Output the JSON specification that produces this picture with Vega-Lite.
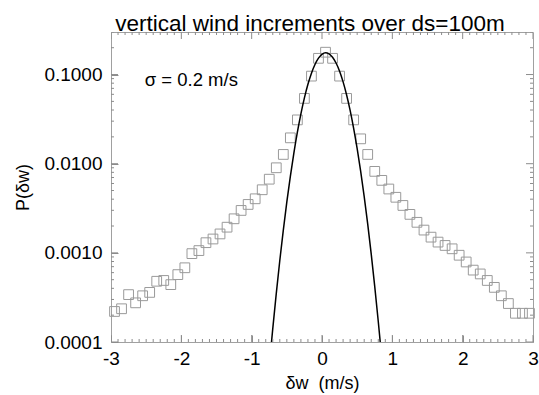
{
  "$schema": "https://vega.github.io/schema/vega-lite/v6.json",
  "width": 422,
  "height": 310,
  "autosize": "none",
  "padding": {"left": 111, "top": 32, "right": 6, "bottom": 53},
  "background": "white",
  "title": {"text": "vertical wind increments over ds=100m", "fontSize": 22.5, "fontWeight": "normal", "font": "Liberation Sans", "color": "black", "anchor": "middle", "dx": -12, "offset": -3},
  "config": {
    "font": "Liberation Sans",
    "view": {"stroke": "#a0a0a0", "strokeWidth": 1},
    "axis": {"zindex": 1, "ticks": true, "tickOpacity": 1, "domain": false, "grid": false, "tickColor": "#8c8c8c", "tickWidth": 1, "labelColor": "black", "labelFontSize": 19, "labelFont": "Liberation Sans", "titleFontSize": 18, "titleFont": "Liberation Sans", "titleFontWeight": "normal", "titleColor": "black", "labelOverlap": false, "labelFlush": false}
  },
  "datasets": {
    "pdf": [
      {"dw": -2.95, "p": 0.00022}, {"dw": -2.85, "p": 0.000236}, {"dw": -2.75, "p": 0.00034}, {"dw": -2.65, "p": 0.000275},
      {"dw": -2.55, "p": 0.00033}, {"dw": -2.45, "p": 0.00036}, {"dw": -2.35, "p": 0.00048}, {"dw": -2.25, "p": 0.00049},
      {"dw": -2.15, "p": 0.00044}, {"dw": -2.05, "p": 0.00057}, {"dw": -1.95, "p": 0.00068}, {"dw": -1.85, "p": 0.00098},
      {"dw": -1.75, "p": 0.00106}, {"dw": -1.65, "p": 0.0013}, {"dw": -1.55, "p": 0.00143}, {"dw": -1.45, "p": 0.00163},
      {"dw": -1.35, "p": 0.00194}, {"dw": -1.25, "p": 0.00241}, {"dw": -1.15, "p": 0.00299}, {"dw": -1.05, "p": 0.00349},
      {"dw": -0.95, "p": 0.00404}, {"dw": -0.85, "p": 0.0051}, {"dw": -0.75, "p": 0.0067}, {"dw": -0.65, "p": 0.009},
      {"dw": -0.55, "p": 0.0127}, {"dw": -0.45, "p": 0.0195}, {"dw": -0.35, "p": 0.031}, {"dw": -0.25, "p": 0.054},
      {"dw": -0.15, "p": 0.096}, {"dw": -0.05, "p": 0.152}, {"dw": 0.05, "p": 0.178}, {"dw": 0.15, "p": 0.152},
      {"dw": 0.25, "p": 0.096}, {"dw": 0.35, "p": 0.054}, {"dw": 0.45, "p": 0.031}, {"dw": 0.55, "p": 0.019},
      {"dw": 0.65, "p": 0.0127}, {"dw": 0.75, "p": 0.0082}, {"dw": 0.85, "p": 0.0065}, {"dw": 0.95, "p": 0.0052},
      {"dw": 1.05, "p": 0.0042}, {"dw": 1.15, "p": 0.0034}, {"dw": 1.25, "p": 0.0027}, {"dw": 1.35, "p": 0.0022},
      {"dw": 1.45, "p": 0.0018}, {"dw": 1.55, "p": 0.0015}, {"dw": 1.65, "p": 0.00132}, {"dw": 1.75, "p": 0.00121},
      {"dw": 1.85, "p": 0.00111}, {"dw": 1.95, "p": 0.00094}, {"dw": 2.05, "p": 0.00079}, {"dw": 2.15, "p": 0.00064},
      {"dw": 2.25, "p": 0.00058}, {"dw": 2.35, "p": 0.00049}, {"dw": 2.45, "p": 0.00041}, {"dw": 2.55, "p": 0.00033},
      {"dw": 2.65, "p": 0.00027}, {"dw": 2.75, "p": 0.00021}, {"dw": 2.85, "p": 0.00021}, {"dw": 2.95, "p": 0.00021}
    ],
    "gauss": [
      {"dw": -0.718, "p": 0.0001}, {"dw": -0.7, "p": 0.000141}, {"dw": -0.65, "p": 0.000351}, {"dw": -0.6, "p": 0.000821},
      {"dw": -0.55, "p": 0.0018}, {"dw": -0.5, "p": 0.00373}, {"dw": -0.45, "p": 0.00722}, {"dw": -0.4, "p": 0.01316},
      {"dw": -0.35, "p": 0.02254}, {"dw": -0.3, "p": 0.03625}, {"dw": -0.25, "p": 0.05473}, {"dw": -0.2, "p": 0.07767},
      {"dw": -0.15, "p": 0.1035}, {"dw": -0.1, "p": 0.1297}, {"dw": -0.05, "p": 0.1525}, {"dw": 0, "p": 0.1686},
      {"dw": 0.05, "p": 0.1751}, {"dw": 0.1, "p": 0.1708}, {"dw": 0.15, "p": 0.1565}, {"dw": 0.2, "p": 0.1346},
      {"dw": 0.25, "p": 0.1089}, {"dw": 0.3, "p": 0.0827}, {"dw": 0.35, "p": 0.059}, {"dw": 0.4, "p": 0.0396},
      {"dw": 0.45, "p": 0.0249}, {"dw": 0.5, "p": 0.01473}, {"dw": 0.55, "p": 0.00819}, {"dw": 0.6, "p": 0.00427},
      {"dw": 0.65, "p": 0.0021}, {"dw": 0.7, "p": 0.000966}, {"dw": 0.75, "p": 0.000418}, {"dw": 0.8, "p": 0.00017},
      {"dw": 0.828, "p": 0.0001}
    ],
    "note": [{"label": "σ = 0.2 m/s"}],
    "xmaj": [{"v": -3}, {"v": -2}, {"v": -1}, {"v": 0}, {"v": 1}, {"v": 2}, {"v": 3}],
    "xmin": [{"v": -2.9}, {"v": -2.8}, {"v": -2.7}, {"v": -2.6}, {"v": -2.5}, {"v": -2.4}, {"v": -2.3}, {"v": -2.2}, {"v": -2.1},
             {"v": -1.9}, {"v": -1.8}, {"v": -1.7}, {"v": -1.6}, {"v": -1.5}, {"v": -1.4}, {"v": -1.3}, {"v": -1.2}, {"v": -1.1},
             {"v": -0.9}, {"v": -0.8}, {"v": -0.7}, {"v": -0.6}, {"v": -0.5}, {"v": -0.4}, {"v": -0.3}, {"v": -0.2}, {"v": -0.1},
             {"v": 0.1}, {"v": 0.2}, {"v": 0.3}, {"v": 0.4}, {"v": 0.5}, {"v": 0.6}, {"v": 0.7}, {"v": 0.8}, {"v": 0.9},
             {"v": 1.1}, {"v": 1.2}, {"v": 1.3}, {"v": 1.4}, {"v": 1.5}, {"v": 1.6}, {"v": 1.7}, {"v": 1.8}, {"v": 1.9},
             {"v": 2.1}, {"v": 2.2}, {"v": 2.3}, {"v": 2.4}, {"v": 2.5}, {"v": 2.6}, {"v": 2.7}, {"v": 2.8}, {"v": 2.9}],
    "ymaj": [{"v": 0.0001}, {"v": 0.001}, {"v": 0.01}, {"v": 0.1}],
    "ymin": [{"v": 0.0002}, {"v": 0.0003}, {"v": 0.0004}, {"v": 0.0005}, {"v": 0.0006}, {"v": 0.0007}, {"v": 0.0008}, {"v": 0.0009},
             {"v": 0.002}, {"v": 0.003}, {"v": 0.004}, {"v": 0.005}, {"v": 0.006}, {"v": 0.007}, {"v": 0.008}, {"v": 0.009},
             {"v": 0.02}, {"v": 0.03}, {"v": 0.04}, {"v": 0.05}, {"v": 0.06}, {"v": 0.07}, {"v": 0.08}, {"v": 0.09},
             {"v": 0.2}, {"v": 0.3}]
  },
  "layer": [
    {
      "data": {"name": "pdf"},
      "mark": {"type": "point", "shape": "square", "filled": false, "size": 95, "stroke": "#9a9a9a", "strokeWidth": 1, "opacity": 1},
      "encoding": {
        "x": {"field": "dw", "type": "quantitative", "scale": {"domain": [-3, 3], "nice": false, "zero": false},
          "axis": {"orient": "bottom", "title": "δw\u00a0 (m/s)", "titlePadding": 6,
            "values": [-3, -2, -1, 0, 1, 2, 3],
            "labelExpr": "toString(round(datum.value))",
            "ticks": true, "tickSize": -7, "labelPadding": 14}},
        "y": {"field": "p", "type": "quantitative", "scale": {"type": "log", "domain": [0.0001, 0.3], "nice": false},
          "axis": {"orient": "left", "title": "P(δw)", "titlePadding": 11,
            "values": [0.0001, 0.001, 0.01, 0.1],
            "labelExpr": "format(datum.value, '.4f')",
            "ticks": true, "tickSize": -7, "labelPadding": 16}}
      }
    },
    {
      "data": {"name": "gauss"},
      "mark": {"type": "line", "color": "black", "strokeWidth": 1.5, "interpolate": "monotone", "clip": true},
      "encoding": {
        "x": {"field": "dw", "type": "quantitative", "axis": null},
        "y": {"field": "p", "type": "quantitative", "axis": null}
      }
    },
    {
      "data": {"name": "xmaj"},
      "mark": {"type": "tick", "orient": "vertical", "size": 14, "thickness": 1, "color": "#8c8c8c", "opacity": 1, "clip": true},
      "encoding": {"x": {"field": "v", "type": "quantitative", "axis": null}, "y": {"datum": 0.0001, "type": "quantitative", "axis": null}}
    },
    {
      "data": {"name": "xmaj"},
      "mark": {"type": "tick", "orient": "vertical", "size": 14, "thickness": 1, "color": "#8c8c8c", "opacity": 1, "clip": true},
      "encoding": {"x": {"field": "v", "type": "quantitative", "axis": null}, "y": {"datum": 0.3, "type": "quantitative", "axis": null}}
    },
    {
      "data": {"name": "xmin"},
      "mark": {"type": "tick", "orient": "vertical", "size": 6, "thickness": 1, "color": "#8c8c8c", "opacity": 1, "clip": true},
      "encoding": {"x": {"field": "v", "type": "quantitative", "axis": null}, "y": {"datum": 0.0001, "type": "quantitative", "axis": null}}
    },
    {
      "data": {"name": "xmin"},
      "mark": {"type": "tick", "orient": "vertical", "size": 6, "thickness": 1, "color": "#8c8c8c", "opacity": 1, "clip": true},
      "encoding": {"x": {"field": "v", "type": "quantitative", "axis": null}, "y": {"datum": 0.3, "type": "quantitative", "axis": null}}
    },
    {
      "data": {"name": "ymaj"},
      "mark": {"type": "tick", "orient": "horizontal", "size": 14, "thickness": 1, "color": "#8c8c8c", "opacity": 1, "clip": true},
      "encoding": {"y": {"field": "v", "type": "quantitative", "axis": null}, "x": {"datum": -3, "type": "quantitative", "axis": null}}
    },
    {
      "data": {"name": "ymaj"},
      "mark": {"type": "tick", "orient": "horizontal", "size": 14, "thickness": 1, "color": "#8c8c8c", "opacity": 1, "clip": true},
      "encoding": {"y": {"field": "v", "type": "quantitative", "axis": null}, "x": {"datum": 3, "type": "quantitative", "axis": null}}
    },
    {
      "data": {"name": "ymin"},
      "mark": {"type": "tick", "orient": "horizontal", "size": 6, "thickness": 1, "color": "#8c8c8c", "opacity": 1, "clip": true},
      "encoding": {"y": {"field": "v", "type": "quantitative", "axis": null}, "x": {"datum": -3, "type": "quantitative", "axis": null}}
    },
    {
      "data": {"name": "ymin"},
      "mark": {"type": "tick", "orient": "horizontal", "size": 6, "thickness": 1, "color": "#8c8c8c", "opacity": 1, "clip": true},
      "encoding": {"y": {"field": "v", "type": "quantitative", "axis": null}, "x": {"datum": 3, "type": "quantitative", "axis": null}}
    },
    {
      "data": {"name": "note"},
      "mark": {"type": "text", "align": "left", "baseline": "middle", "fontSize": 18.5, "font": "Liberation Sans", "color": "black"},
      "encoding": {
        "x": {"datum": -2.52, "type": "quantitative", "axis": null},
        "y": {"datum": 0.087, "type": "quantitative", "axis": null},
        "text": {"field": "label"}
      }
    }
  ],
  "resolve": {"axis": {"x": "independent", "y": "independent"}}
}
